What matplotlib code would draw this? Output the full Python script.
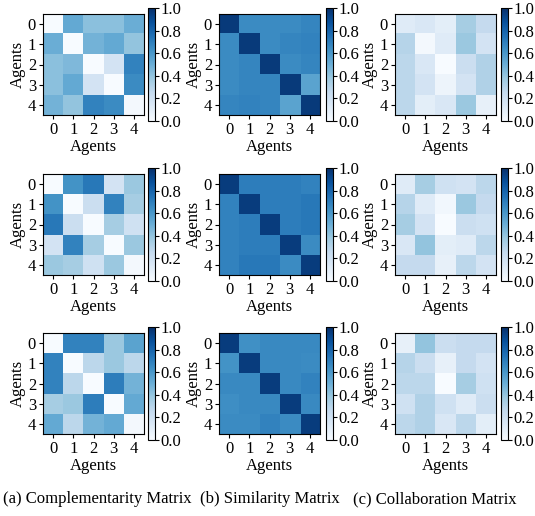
import matplotlib.pyplot as plt
import numpy as np

plt.rcParams['font.family'] = ['Liberation Serif', 'DejaVu Serif']
plt.rcParams['font.size'] = 12
plt.rcParams['mathtext.fontset'] = 'stix'

agents = [0, 1, 2, 3, 4]
cbar_ticks = [0.0, 0.2, 0.4, 0.6, 0.8, 1.0]
captions = ['(a) Complementarity Matrix', '(b) Similarity Matrix', '(c) Collaboration Matrix']

# 互补矩阵（三行）
comp_1 = [[0.00, 0.52, 0.42, 0.42, 0.50],
          [0.50, 0.00, 0.48, 0.52, 0.40],
          [0.42, 0.45, 0.00, 0.18, 0.68],
          [0.42, 0.52, 0.18, 0.00, 0.65],
          [0.48, 0.40, 0.68, 0.65, 0.02]]
comp_2 = [[0.00, 0.62, 0.72, 0.18, 0.38],
          [0.62, 0.00, 0.22, 0.68, 0.35],
          [0.72, 0.22, 0.00, 0.35, 0.20],
          [0.18, 0.68, 0.35, 0.00, 0.38],
          [0.38, 0.35, 0.20, 0.38, 0.02]]
comp_3 = [[0.00, 0.68, 0.68, 0.38, 0.55],
          [0.68, 0.00, 0.28, 0.38, 0.28],
          [0.68, 0.28, 0.00, 0.70, 0.48],
          [0.35, 0.38, 0.70, 0.00, 0.52],
          [0.52, 0.28, 0.48, 0.52, 0.02]]

# 相似矩阵
sim_1 = [[0.96, 0.65, 0.65, 0.65, 0.67],
         [0.65, 0.96, 0.65, 0.67, 0.68],
         [0.65, 0.67, 0.96, 0.65, 0.67],
         [0.65, 0.67, 0.67, 0.96, 0.55],
         [0.67, 0.68, 0.67, 0.55, 0.96]]
sim_2 = [[0.95, 0.70, 0.70, 0.70, 0.68],
         [0.68, 0.95, 0.70, 0.70, 0.72],
         [0.68, 0.70, 0.95, 0.70, 0.72],
         [0.68, 0.70, 0.70, 0.95, 0.65],
         [0.68, 0.72, 0.72, 0.65, 0.95]]
sim_3 = [[0.95, 0.63, 0.66, 0.66, 0.66],
         [0.62, 0.95, 0.66, 0.66, 0.65],
         [0.66, 0.66, 0.95, 0.66, 0.68],
         [0.64, 0.66, 0.66, 0.95, 0.66],
         [0.65, 0.65, 0.68, 0.65, 0.95]]

# 协作矩阵
collab_1 = [[0.12, 0.15, 0.10, 0.35, 0.25],
            [0.30, 0.02, 0.12, 0.38, 0.18],
            [0.28, 0.15, 0.00, 0.22, 0.32],
            [0.28, 0.18, 0.05, 0.18, 0.32],
            [0.28, 0.10, 0.15, 0.38, 0.08]]
collab_2 = [[0.12, 0.35, 0.20, 0.18, 0.28],
            [0.30, 0.12, 0.03, 0.38, 0.25],
            [0.35, 0.18, 0.00, 0.22, 0.20],
            [0.15, 0.40, 0.10, 0.12, 0.28],
            [0.25, 0.25, 0.08, 0.28, 0.18]]
collab_3 = [[0.08, 0.40, 0.22, 0.25, 0.25],
            [0.30, 0.22, 0.08, 0.25, 0.18],
            [0.28, 0.28, 0.00, 0.35, 0.20],
            [0.20, 0.32, 0.20, 0.12, 0.22],
            [0.28, 0.32, 0.15, 0.28, 0.10]]

grid = [[comp_1, sim_1, collab_1],
        [comp_2, sim_2, collab_2],
        [comp_3, sim_3, collab_3]]

W, H = 535, 516
fig = plt.figure(figsize=(W / 100, H / 100), dpi=100)

# 像素位置（按参考图量取）
col_x = [43, 219, 395]
cbar_x = [148, 326, 501]
row_top = [14, 174, 333]
size = 101


def px_rect(x, top, w, h):
    return [x / W, (H - top - h) / H, w / W, h / H]


for r in range(3):
    for c in range(3):
        ax = fig.add_axes(px_rect(col_x[c], row_top[r], size, size))
        im = ax.imshow(np.array(grid[r][c]), cmap='Blues', vmin=0, vmax=1,
                       aspect='auto', interpolation='nearest')
        ax.set_xticks(agents)
        ax.set_yticks(agents)
        ax.set_xticklabels(agents)
        ax.set_yticklabels(agents)
        ax.tick_params(length=3, width=0.8, pad=2)
        ax.set_xlabel('Agents', labelpad=1)
        ax.set_ylabel('Agents', labelpad=1)

        cax = fig.add_axes(px_rect(cbar_x[c], row_top[r] - 6, 7, 113))
        cb = fig.colorbar(im, cax=cax, ticks=cbar_ticks)
        cb.ax.set_yticklabels([f'{t:.1f}' for t in cbar_ticks])
        cb.ax.tick_params(length=3, width=0.8, pad=1)
        cb.outline.set_linewidth(0.8)

caption_x = [3, 200, 353]
for x, cap in zip(caption_x, captions):
    fig.text(x / W, 1 - 499 / H, cap, ha='left', va='center', fontsize=12)

plt.savefig('out.png', dpi=100)
plt.close()
